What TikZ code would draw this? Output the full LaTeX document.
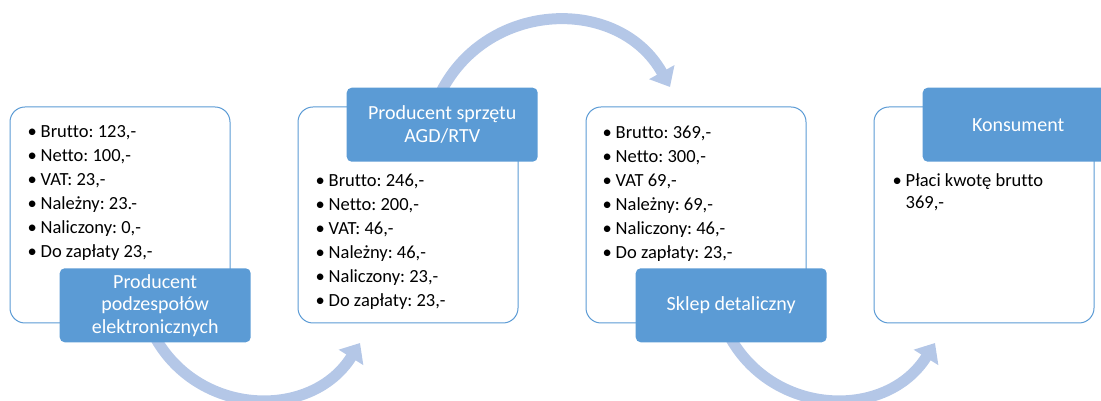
\documentclass[tikz,border=0pt]{standalone}
\usepackage{fontspec}
\setmainfont[Ligatures=NoCommon]{Carlito}
\usepackage{xcolor}
\usetikzlibrary{positioning,arrows.meta,backgrounds}
\definecolor{smartblue}{HTML}{5B9BD5}
\definecolor{flowblue}{HTML}{B4C7E7}
\tikzset{
  stage/.style={draw=smartblue,line width=1pt,fill=white,rounded corners=15pt,minimum width=220pt,minimum height=216pt},
  title/.style={fill=smartblue,text=white,rounded corners=5pt,minimum width=191pt,minimum height=74pt,align=center,font=\fontsize{20}{22.5}\selectfont},
  facts/.style={anchor=north west,align=left,inner sep=0pt,font=\fontsize{18.5}{24}\selectfont},
  flow/.style={flowblue,line width=11pt,-{Triangle[width=28pt,length=17pt]}},
}
\newcommand{\itm}[1]{\makebox[13pt][l]{\textbullet}#1}
\frenchspacing

\begin{document}
\begin{tikzpicture}[x=1pt,y=1pt]
  \useasboundingbox (0,0) rectangle (1101,401);
  \clip (0,0) rectangle (1101,401);
  % stages
  \node[stage] (b1) at (120,186) {};
  \node[stage,right=67pt of b1] (b2) {};
  \node[stage,right=67pt of b2] (b3) {};
  \node[stage,right=67pt of b3] (b4) {};
  % titles
  \node[title,anchor=south west] (t1) at ([shift={(50,-19)}]b1.south west) {Producent\\podzespołów\\elektronicznych};
  \node[title,anchor=north west] (t2) at ([shift={(49,19)}]b2.north west) {Producent sprzętu\\AGD/RTV};
  \node[title,anchor=south west] (t3) at ([shift={(50,-19)}]b3.south west) {Sklep detaliczny};
  \node[title,anchor=north west] (t4) at ([shift={(49,19)}]b4.north west) {Konsument};
  % lists
  \node[facts] (l1) at ([shift={(18,-19)}]b1.north west) {\itm{Brutto: 123,-}\\ \itm{Netto: 100,-}\\ \itm{VAT: 23,-}\\ \itm{Należny: 23.-}\\ \itm{Naliczony: 0,-}\\ \itm{Do zapłaty 23,-}};
  \node[facts] (l2) at ([shift={(18,-67)}]b2.north west) {\itm{Brutto: 246,-}\\ \itm{Netto: 200,-}\\ \itm{VAT: 46,-}\\ \itm{Należny: 46,-}\\ \itm{Naliczony: 23,-}\\ \itm{Do zapłaty: 23,-}};
  \node[facts] (l3) at ([shift={(17,-19)}]b3.north west) {\itm{Brutto: 369,-}\\ \itm{Netto: 300,-}\\ \itm{VAT 69,-}\\ \itm{Należny: 69,-}\\ \itm{Naliczony: 46,-}\\ \itm{Do zapłaty: 23,-}};
  \node[facts,font=\fontsize{18.5}{22}\selectfont] (l4) at ([shift={(19,-67)}]b4.north west) {\itm{Płaci kwotę brutto}\\ \hspace*{13pt}369,-};
  % flow arrows
  \coordinate (f1s) at (156,62);  \coordinate (f1e) at (360,58);
  \coordinate (f2s) at (441,309); \coordinate (f2e) at (670,314);
  \coordinate (f3s) at (731,62);  \coordinate (f3e) at (935,58);
  \begin{scope}[on background layer]
    \draw[flow] (f1s) to[out=-60,in=238,looseness=1.13] (f1e);
    \draw[flow] (f2s) to[out=63,in=119,looseness=1.16] (f2e);
    \draw[flow] (f3s) to[out=-60,in=238,looseness=1.13] (f3e);
  \end{scope}
\end{tikzpicture}
\end{document}
